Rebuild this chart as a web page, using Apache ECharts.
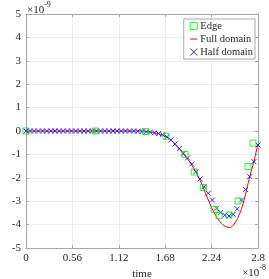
<!DOCTYPE html>
<html>
<head>
<meta charset="utf-8">
<script src="https://cdn.jsdelivr.net/npm/echarts@6/dist/echarts.min.js"></script>
<style>html,body{margin:0;padding:0;background:#fff}#c{width:269px;height:279px}</style>
</head>
<body>
<div id="c"></div>
<script>
// time in units of 1e-8 s, E.t in units of 1e-9
var tFull = [0, 0.5, 1.0, 1.4, 1.5, 1.6, 1.7, 1.8, 1.9, 2.0, 2.1, 2.2, 2.28, 2.36, 2.42, 2.46, 2.5, 2.54, 2.58, 2.62, 2.66, 2.7, 2.75, 2.8];
var eFull = [0, 0, 0, 0, -0.05, -0.12, -0.26, -0.58, -0.98, -1.45, -2.1, -2.95, -3.55, -3.95, -4.1, -4.12, -4.03, -3.82, -3.52, -3.1, -2.55, -1.95, -1.3, -0.55];

var tHalf = [0,0.05,0.1,0.15,0.2,0.25,0.3,0.35,0.4,0.45,0.5,0.55,0.6,0.65,0.7,0.75,0.8,0.85,0.9,0.95,1.0,1.05,1.1,1.15,1.2,1.25,1.3,1.35,1.4,1.45,1.5,1.55,1.6,1.65,1.7,1.75,1.8,1.85,1.9,1.95,2.0,2.05,2.1,2.15,2.2,2.25,2.3,2.35,2.4,2.45,2.5,2.55,2.6,2.65,2.7,2.75,2.8];
var eHalf = [0,0,0,0,0,0,0,0,0,0,0,0,0,0,0,0,0,0,0,0,0,0,0,0,0,0,0,-0.01,-0.02,-0.03,-0.05,-0.08,-0.11,-0.16,-0.25,-0.38,-0.55,-0.75,-0.95,-1.15,-1.41,-1.74,-2.05,-2.38,-2.66,-2.95,-3.3,-3.48,-3.6,-3.63,-3.56,-3.33,-2.95,-2.5,-1.95,-1.31,-0.6];

var tEdge = [0, 0.84, 1.44, 1.69, 1.92, 2.03, 2.14, 2.27, 2.33, 2.45, 2.56, 2.68, 2.74];
var eEdge = [0, 0, -0.02, -0.22, -1.0, -1.75, -2.42, -3.35, -3.62, -3.59, -2.99, -1.52, -0.52];

var xTicks = [0, 0.56, 1.12, 1.68, 2.24, 2.8];
var yTicks = [-5, -4, -3, -2, -1, 0, 1, 2, 3, 4, 5];

function zip(a, b) { return a.map(function (v, i) { return [v, b[i]]; }); }

var FONT = 'Liberation Serif';
var AX = '#a8a8a8';
var TXT = '#262626';
var RED = '#ff0000', BLUE = '#0000ff', GREEN = '#00ee00';
var chart = echarts.init(document.getElementById('c'), null, {renderer: 'canvas'});
var xBase = {
  type: 'value', min: xTicks[0], max: xTicks[xTicks.length - 1], interval: xTicks[1] - xTicks[0],
  axisLine: {show: true, onZero: false, lineStyle: {color: AX, width: 1}},
  axisTick: {show: true, inside: true, length: 3, lineStyle: {color: AX}},
  splitLine: {show: false}
};
var yBase = {
  type: 'value', min: yTicks[0], max: yTicks[yTicks.length - 1], interval: 1,
  axisLine: {show: true, onZero: false, lineStyle: {color: AX, width: 1}},
  axisTick: {show: true, inside: true, length: 3, lineStyle: {color: AX}},
  splitLine: {show: false}
};
chart.setOption({
  animation: false,
  grid: {left: 26, right: 11, top: 14, bottom: 31, containLabel: false, outerBoundsMode: 'none'},
  xAxis: [
    Object.assign({}, xBase, {
      position: 'bottom',
      name: 'time', nameLocation: 'middle', nameGap: 18,
      nameTextStyle: {fontFamily: FONT, fontSize: 11, color: TXT},
      axisLabel: {fontFamily: FONT, fontSize: 11, color: TXT, margin: 5,
        formatter: function (v) { return String(+v.toFixed(2)); }},
      splitLine: {show: true, lineStyle: {color: '#ececec', width: 1}}
    }),
    Object.assign({}, xBase, {position: 'top', axisLabel: {show: false}})
  ],
  yAxis: [
    Object.assign({}, yBase, {
      position: 'left',
      name: 'E.t', nameLocation: 'middle', nameGap: 16,
      nameTextStyle: {fontFamily: FONT, fontSize: 11, color: TXT, fontStyle: 'italic'},
      axisLabel: {fontFamily: FONT, fontSize: 11, color: TXT, margin: 5},
      splitLine: {show: true, lineStyle: {color: '#ececec', width: 1}}
    }),
    Object.assign({}, yBase, {position: 'right', axisLabel: {show: false}})
  ],
  legend: {
    right: 14, top: 19, orient: 'vertical',
    backgroundColor: '#fff', borderColor: AX, borderWidth: 1, borderRadius: 0,
    padding: [1, 2, 1, 4], itemGap: 1, itemWidth: 7, itemHeight: 7,
    textStyle: {fontFamily: FONT, fontSize: 10.5, lineHeight: 11, color: TXT, padding: [0, 0, 0, -2]},
    data: [
      {name: 'Edge', icon: 'rect', itemStyle: {color: 'none', borderColor: GREEN, borderWidth: 1}},
      {name: 'Full domain', icon: 'path://M0,0M0,5L10,5M10,10',
        itemStyle: {color: 'none', borderColor: RED, borderWidth: 1},
        lineStyle: {color: RED, width: 1}},
      {name: 'Half domain', icon: 'path://M0,0L10,10M10,0L0,10',
        itemStyle: {color: 'none', borderColor: BLUE, borderWidth: 1}}
    ]
  },
  series: [
    {
      name: 'Full domain', type: 'line', data: zip(tFull, eFull), smooth: 0.4,
      symbol: 'none', lineStyle: {color: RED, width: 1}, itemStyle: {color: RED}, z: 2
    },
    {
      name: 'Half domain', type: 'scatter', data: zip(tHalf, eHalf),
      symbol: 'path://M0,0L10,10M10,0L0,10', symbolSize: 5,
      itemStyle: {color: 'none', borderColor: BLUE, borderWidth: 1}, z: 3
    },
    {
      name: 'Edge', type: 'scatter', data: zip(tEdge, eEdge),
      symbol: 'rect', symbolSize: 6,
      itemStyle: {color: 'none', borderColor: GREEN, borderWidth: 1}, z: 4
    }
  ],
  graphic: [
    {type: 'text', left: 27, top: 1, style: {text: '{a|×10}{b|-9}', rich: {
      a: {fontFamily: FONT, fontSize: 11, fill: TXT, padding: [4, 0, 0, 0]},
      b: {fontFamily: FONT, fontSize: 8, fill: TXT, verticalAlign: 'top', padding: [0, 0, 6, 0]}}}},
    {type: 'text', right: 3, top: 264, style: {text: '{a|×10}{b|-8}', rich: {
      a: {fontFamily: FONT, fontSize: 11, fill: TXT, padding: [4, 0, 0, 0]},
      b: {fontFamily: FONT, fontSize: 8, fill: TXT, verticalAlign: 'top', padding: [0, 0, 6, 0]}}}}
  ]
});
</script>
</body>
</html>
